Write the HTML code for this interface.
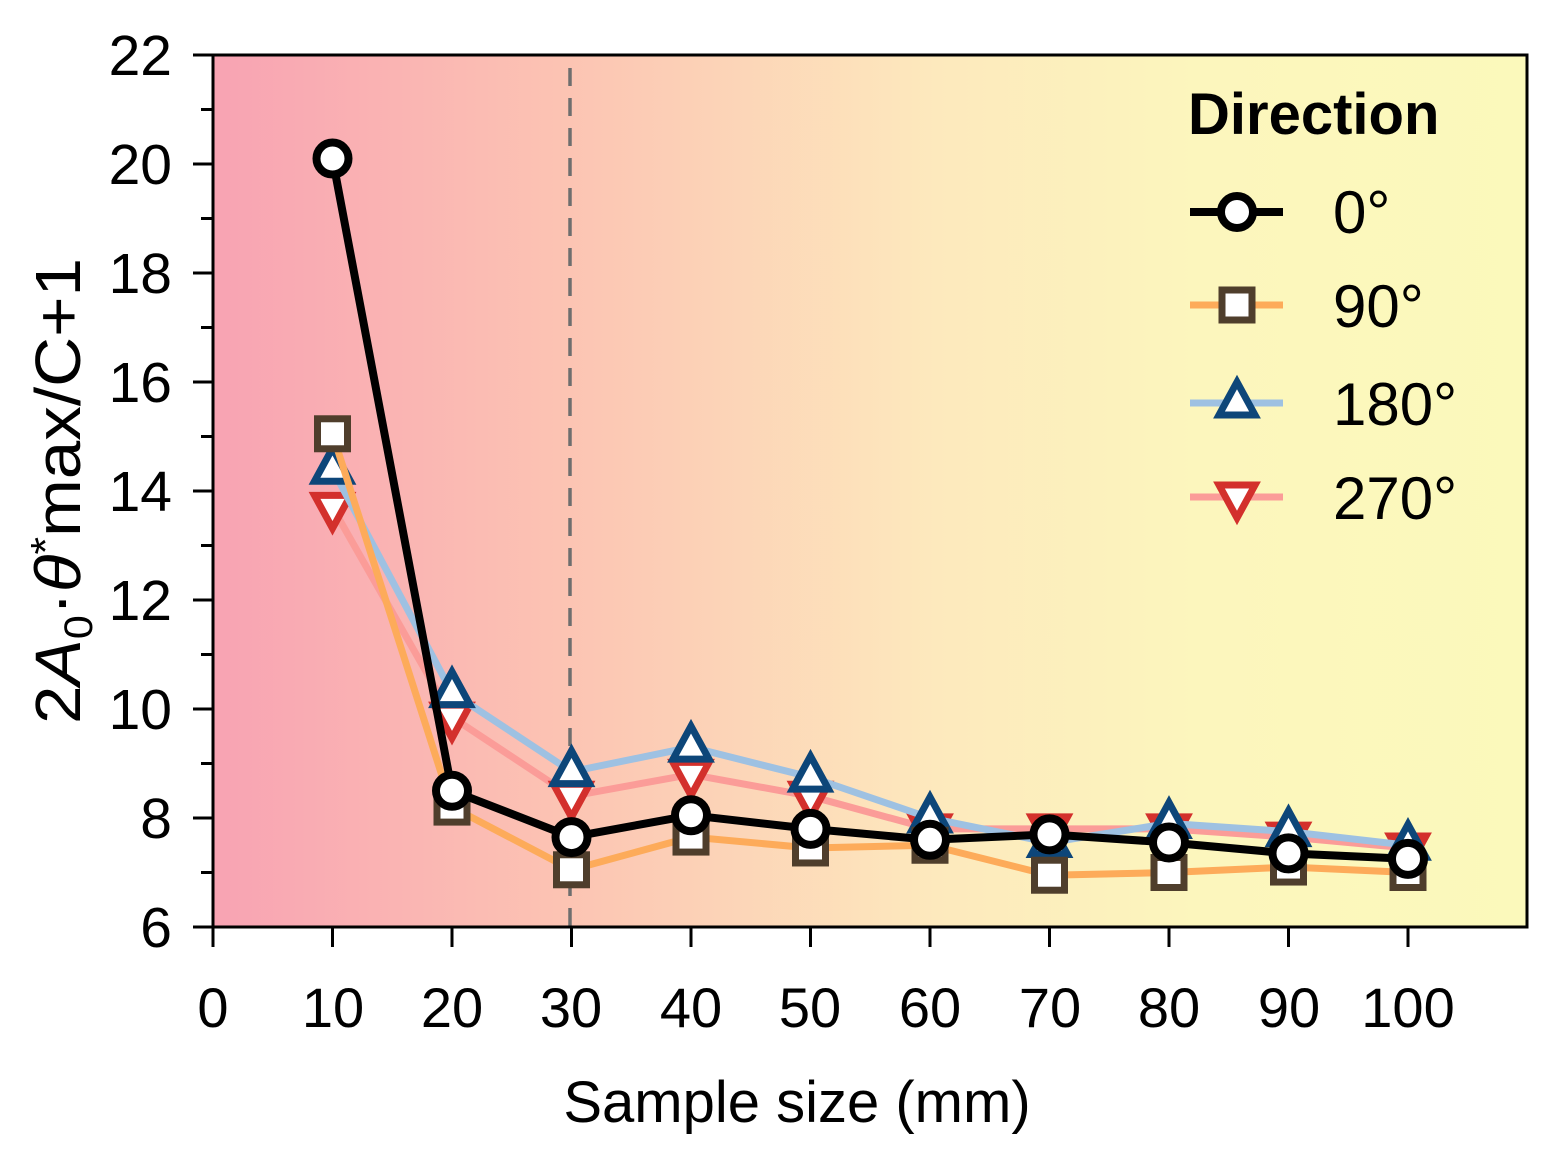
<!DOCTYPE html>
<html><head><meta charset="utf-8"><style>body{margin:0;background:#fff}svg{display:block}</style></head><body>
<svg id="s" width="1553" height="1160" xmlns="http://www.w3.org/2000/svg" font-family="Liberation Sans, sans-serif">
<defs><linearGradient id="g" x1="0" x2="1" y1="0" y2="0">
<stop offset="0" stop-color="#f8a3b3"/><stop offset="0.27" stop-color="#fcc4b3"/><stop offset="0.55" stop-color="#fde9bd"/><stop offset="0.75" stop-color="#fcf6bd"/><stop offset="1" stop-color="#fbf9bb"/></linearGradient></defs>
<rect x="213" y="55" width="1314" height="872" fill="url(#g)"/>
<line x1="570" y1="68" x2="570" y2="927" stroke="#6e6e6e" stroke-width="3.5" stroke-dasharray="18,12"/>
<g id="data"></g>
<rect x="213" y="55" width="1314" height="872" fill="none" stroke="#000" stroke-width="3"/>
<g id="ticks" stroke="#000" stroke-width="3"></g>
<g font-size="57" text-anchor="end" fill="#000">
<text x="172" y="75">22</text><text x="172" y="184">20</text><text x="172" y="293">18</text><text x="172" y="402">16</text><text x="172" y="511">14</text><text x="172" y="620">12</text><text x="172" y="729">10</text><text x="172" y="838">8</text><text x="172" y="947">6</text>
</g>
<g font-size="56" text-anchor="middle" fill="#000">
<text x="213" y="1027">0</text><text x="333" y="1027">10</text><text x="452" y="1027">20</text><text x="571" y="1027">30</text><text x="691" y="1027">40</text><text x="810" y="1027">50</text><text x="930" y="1027">60</text><text x="1050" y="1027">70</text><text x="1169" y="1027">80</text><text x="1289" y="1027">90</text><text x="1408" y="1027">100</text>
</g>
<text x="797" y="1122" font-size="58" text-anchor="middle">Sample size (mm)</text>
<text transform="translate(80,491) rotate(-90)" font-size="64" text-anchor="middle" textLength="466" lengthAdjust="spacingAndGlyphs">2<tspan font-style="italic">A</tspan><tspan font-size="40" dy="12">0</tspan><tspan dy="-12">·</tspan><tspan font-style="italic">θ</tspan><tspan font-size="42" dy="-20">*</tspan><tspan dy="20">max/C+1</tspan></text>
<text x="1188" y="134" font-size="58" font-weight="bold">Direction</text>
<g font-size="60"><text x="1333" y="233">0°</text><text x="1333" y="327">90°</text><text x="1333" y="425">180°</text><text x="1333" y="519">270°</text></g>
<g id="leg"></g>
</svg>
<script>
const X=v=>213+11.95*v, Y=v=>927-54.5*(v-6);
const xs=[10,20,30,40,50,60,70,80,90,100];
const S=[
 {d:[13.7,9.85,8.4,8.8,8.4,7.8,7.8,7.8,7.65,7.45],lc:"#fb9c98",mc:"#d3302c",m:"dn"},
 {d:[14.4,10.3,8.85,9.3,8.75,8.0,7.55,7.9,7.75,7.5],lc:"#9ec1e2",mc:"#0d4679",m:"up"},
 {d:[15.05,8.2,7.05,7.65,7.45,7.5,6.95,7.0,7.1,7.0],lc:"#fdab5a",mc:"#4f3e2c",m:"sq"},
 {d:[20.1,8.5,7.65,8.05,7.8,7.6,7.7,7.55,7.35,7.25],lc:"#000",mc:"#000",m:"ci"}];
function mk(t,x,y,c){
 if(t=="ci")return `<circle cx="${x}" cy="${y}" r="16" fill="#fff" stroke="${c}" stroke-width="8"/>`;
 if(t=="sq")return `<rect x="${x-15}" y="${y-15}" width="30" height="30" fill="#fff" stroke="${c}" stroke-width="7"/>`;
 if(t=="up")return `<polygon points="${x},${y-21} ${x-18},${y+12} ${x+18},${y+12}" fill="#fff" stroke="${c}" stroke-width="7"/>`;
 return `<polygon points="${x},${y+21} ${x-18},${y-12} ${x+18},${y-12}" fill="#fff" stroke="${c}" stroke-width="7"/>`;
}
let h="";
for(const s of S){
 const p=xs.map((x,i)=>X(x)+","+Y(s.d[i])).join(" ");
 h+=`<polyline points="${p}" fill="none" stroke="${s.lc}" stroke-width="${s.m=="ci"?8:7}"/>`;
 xs.forEach((x,i)=>h+=mk(s.m,X(x),Y(s.d[i]),s.mc));
}
document.getElementById("data").innerHTML=h;
let t="";
for(let v=6;v<=22;v++){const y=Y(v);t+=`<line x1="${v%2?201:193}" y1="${y}" x2="213" y2="${y}"/>`;}
for(let v=0;v<=100;v+=10){const x=X(v);t+=`<line x1="${x}" y1="927" x2="${x}" y2="947"/>`;}
document.getElementById("ticks").innerHTML=t;
const L=[[3,212],[2,305],[1,403],[0,497]];let l="";
for(const [i,y] of L){const s=S[i];l+=`<line x1="1190" y1="${y}" x2="1283" y2="${y}" stroke="${s.lc}" stroke-width="${i==3?8:7}"/>`+mk(s.m,1237,y,s.mc);}
document.getElementById("leg").innerHTML=l;
</script>
</body></html>
